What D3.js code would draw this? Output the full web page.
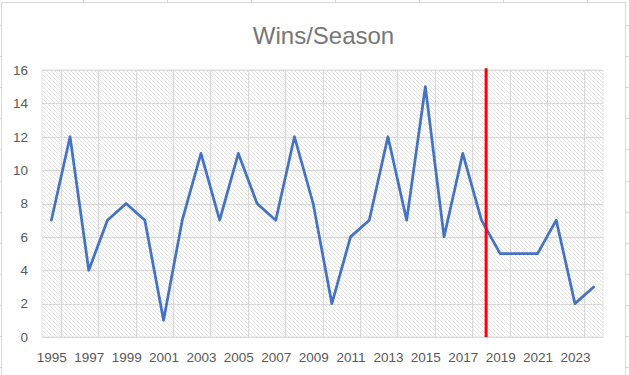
<!DOCTYPE html>
<html>
<head>
<meta charset="utf-8">
<script src="https://cdn.jsdelivr.net/npm/d3@7/dist/d3.min.js"></script>
<style>
  body { margin: 0; background: #fff; }
  text { font-family: "Liberation Sans", Arial, sans-serif; }
</style>
</head>
<body>
<svg id="svg_wins" width="629" height="375"></svg>
<script>
// Wins per season line chart

const years = [1995, 1996, 1997, 1998, 1999, 2000, 2001, 2002, 2003, 2004,
               2005, 2006, 2007, 2008, 2009, 2010, 2011, 2012, 2013, 2014,
               2015, 2016, 2017, 2018, 2019, 2020, 2021, 2022, 2023, 2024];
const wins = [7, 12, 4, 7, 8, 7, 1, 7, 11, 7,
              11, 8, 7, 12, 8, 2, 6, 7, 12, 7,
              15, 6, 11, 7, 5, 5, 5, 7, 2, 3];
const yTicks = [0, 2, 4, 6, 8, 10, 12, 14, 16];
const xTickYears = [1995, 1997, 1999, 2001, 2003, 2005, 2007, 2009,
                    2011, 2013, 2015, 2017, 2019, 2021, 2023];
// red marker line, sits just after the 2018 point
const cutoff = [{ year: 2018.25, value: 0 }, { year: 2018.25, value: 16.1 }];

const svg = d3.select("#svg_wins");
const width = +svg.attr("width");
const height = +svg.attr("height");

const padding = { top: 70, right: 26, bottom: 38, left: 42 };

// faint worksheet cell lines behind the chart object
const sheet = svg.append("g").attr("stroke", "#d4d4d4").attr("stroke-width", 1);
d3.range(83, width, 84).forEach(cx => {
    sheet.append("line").attr("x1", cx + 0.5).attr("x2", cx + 0.5).attr("y1", 0).attr("y2", 2);
});
d3.range(25, height, 31.1).forEach(cy => {
    sheet.append("line").attr("x1", 0).attr("x2", 1.5).attr("y1", Math.round(cy) + 0.5).attr("y2", Math.round(cy) + 0.5);
    sheet.append("line").attr("x1", 626).attr("x2", width).attr("y1", Math.round(cy) + 0.5).attr("y2", Math.round(cy) + 0.5);
});

// chart frame
svg.append("rect")
    .attr("x", 1.5).attr("y", 2.5)
    .attr("width", 624).attr("height", height + 10)
    .attr("fill", "#fff")
    .attr("stroke", "#d9d9d9");

const xScale = d3.scaleLinear()
    .domain([years[0] - 0.5, years[years.length - 1] + 0.5])
    .range([padding.left, width - padding.right]);

const yScale = d3.scaleLinear()
    .domain([0, d3.max(yTicks)])
    .range([height - padding.bottom, padding.top]);

// hatched plot background
const defs = svg.append("defs");
const pat = defs.append("pattern")
    .attr("id", "hatch")
    .attr("patternUnits", "userSpaceOnUse")
    .attr("width", 4).attr("height", 4);
pat.append("rect").attr("width", 4).attr("height", 4).attr("fill", "#fff");
pat.append("path")
    .attr("d", "M-1,-1 L5,5 M-1,3 L1,5 M3,-1 L5,1")
    .attr("stroke", "#e2e2e2")
    .attr("stroke-width", 1);

const x0 = xScale.range()[0], x1 = xScale.range()[1];
const y0 = yScale.range()[0], y1 = yScale.range()[1];

svg.append("rect")
    .attr("x", x0).attr("y", y1)
    .attr("width", x1 - x0).attr("height", y0 - y1)
    .attr("fill", "url(#hatch)")
    .attr("stroke", "#e4e4e4");

// gridlines
const grid = svg.append("g").attr("stroke", "#d9d9d9").attr("stroke-width", 1);
grid.selectAll(".hgrid")
    .data(yTicks)
    .join("line")
    .attr("x1", x0).attr("x2", x1)
    .attr("y1", d => Math.round(yScale(d)) + 0.5)
    .attr("y2", d => Math.round(yScale(d)) + 0.5);
grid.selectAll(".vgrid")
    .data(xTickYears)
    .join("line")
    .attr("x1", d => Math.round(xScale(d + 0.5)) + 0.5)
    .attr("x2", d => Math.round(xScale(d + 0.5)) + 0.5)
    .attr("y1", y1).attr("y2", y0);

// Draw Axis
const xAxis = svg.append("g")
    .attr("id", "x-axis")
    .attr("transform", "translate(0," + y0 + ")")
    .call(d3.axisBottom(xScale).tickValues(xTickYears).tickFormat(d3.format("d")).tickSize(0).tickPadding(15));
xAxis.select(".domain").attr("stroke", "#d9d9d9");

const yAxis = svg.append("g")
    .attr("id", "y-axis")
    .attr("transform", "translate(" + x0 + ",0)")
    .call(d3.axisLeft(yScale).tickValues(yTicks).tickSize(0).tickPadding(14));
yAxis.select(".domain").remove();

svg.selectAll("#x-axis text, #y-axis text")
    .attr("font-family", "Liberation Sans, Arial, sans-serif")
    .attr("font-size", "13.5px")
    .attr("fill", "#595959");

// wins line
const line = d3.line()
    .x((d, i) => xScale(years[i]))
    .y(d => yScale(d));

svg.append("path")
    .datum(wins)
    .attr("d", line)
    .attr("fill", "none")
    .attr("stroke", "#4472C4")
    .attr("stroke-width", 2.75)
    .attr("stroke-linejoin", "round")
    .attr("stroke-linecap", "round");

// cutoff marker
svg.append("path")
    .datum(cutoff)
    .attr("d", d3.line().x(d => xScale(d.year)).y(d => yScale(d.value)))
    .attr("stroke", "#FF0000")
    .attr("stroke-width", 3);

// title
svg.append("text")
    .attr("x", 323.5)
    .attr("y", 44)
    .attr("text-anchor", "middle")
    .attr("font-size", "24px")
    .attr("fill", "#767676")
    .text("Wins/Season");
</script>
</body>
</html>
